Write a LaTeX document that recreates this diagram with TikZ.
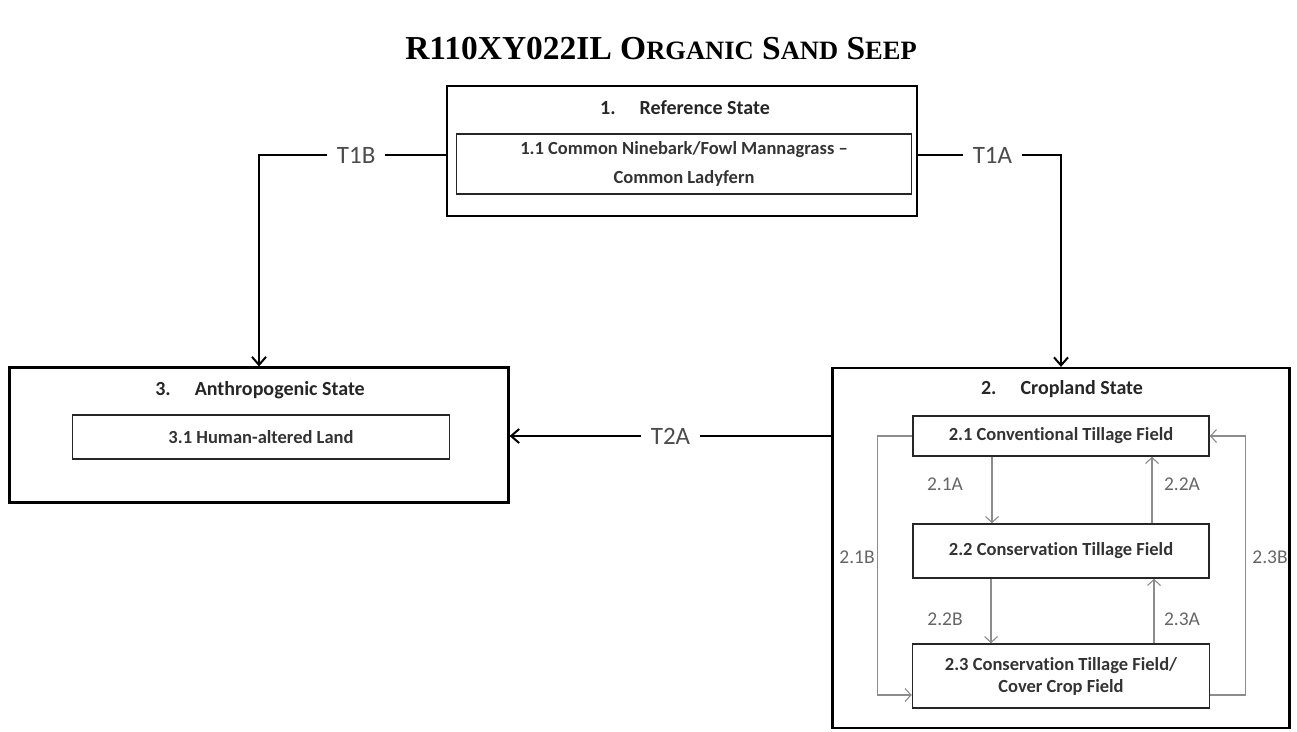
\documentclass[tikz,border=0pt]{standalone}
\usepackage{fontspec}
\setmainfont[Ligatures=NoCommon]{Carlito}
\newfontfamily\titlefont{Liberation Serif}
\usetikzlibrary{arrows.meta}
\begin{document}
\begin{tikzpicture}[x=1pt,y=-1pt,
  statebox/.style={draw=black,line width=2.2pt,inner sep=0pt},
  phasebox/.style={draw=black!85,line width=1.5pt,inner sep=0pt,align=center,
     font=\fontsize{18.5}{22}\selectfont\bfseries,text=black!80},
  statetitle/.style={font=\fontsize{20}{24}\selectfont\bfseries,text=black!85},
  bigarrow/.style={line width=2.2pt,draw=black,-{Straight Barb[length=8pt,width=14pt,line width=2pt]}},
  garrow/.style={line width=1.2pt,draw=black!45,-{Straight Barb[length=6pt,width=13pt,line width=1.1pt]}},
  tlabel/.style={fill=white,inner xsep=10pt,font=\fontsize{25}{28}\selectfont,text=black!70},
  glabel/.style={font=\fontsize{19.5}{22}\selectfont,text=black!60}]
\useasboundingbox (0,0) rectangle (1297,731);
% title
\node[font=\titlefont\bfseries\fontsize{33.5}{38}\selectfont,text=black] (title) at (661,49)
  {R110XY022IL O{\fontsize{26.5}{30}\selectfont RGANIC} S{\fontsize{26.5}{30}\selectfont AND} S{\fontsize{26.5}{30}\selectfont EEP}};
% state 1
\node[statebox,minimum width=470pt,minimum height=130pt] (b1) at (682,151) {};
\node[statetitle] (b1t) at (685,108) {1.\hspace{1.2em}Reference State};
\node[phasebox,minimum width=455pt,minimum height=60pt] (s11) at (684,164)
  {1.1 Common Ninebark/Fowl Mannagrass --\\[7pt]Common Ladyfern};
% state 3
\node[statebox,minimum width=499pt,minimum height=135pt] (b3) at (259,435) {};
\node[statetitle] (b3t) at (260,390) {3.\hspace{1.2em}Anthropogenic State};
\node[phasebox,minimum width=377pt,minimum height=44pt] (s31) at (261,437) {3.1 Human-altered Land};
% state 2
\node[statebox,minimum width=457pt,minimum height=360pt] (b2) at (1061,548) {};
\node[statetitle] (b2t) at (1062,389) {2.\hspace{1.2em}Cropland State};
\node[phasebox,minimum width=296pt,minimum height=40pt] (s21) at (1061,436) {2.1 Conventional Tillage Field};
\node[phasebox,minimum width=296pt,minimum height=54pt] (s22) at (1061,551) {2.2 Conservation Tillage Field};
\node[phasebox,minimum width=297pt,minimum height=64pt] (s23) at (1061,676) {2.3 Conservation Tillage Field/\\Cover Crop Field};
% transitions between states
\draw[bigarrow] ([yshift=-4pt]b1.west) -| node[tlabel,pos=0.24] {T1B} (b3.north);
\draw[bigarrow] ([yshift=-4pt]b1.east) -| node[tlabel,pos=0.26] {T1A} (b2.north);
\draw[bigarrow] (b2.west |- s21.west) -- node[tlabel] {T2A} (b3.east |- s21.west);
% transitions within state 2
\draw[garrow] ([xshift=-69pt]s21.south) -- ([xshift=-69pt]s22.north);
\draw[garrow] ([xshift=91pt]s22.north) -- ([xshift=91pt]s21.south);
\draw[garrow] ([xshift=-70pt]s22.south) -- ([xshift=-70pt]s23.north);
\draw[garrow] ([xshift=93pt]s23.north) -- ([xshift=93pt]s22.south);
\draw[garrow] (s21.west) -- ++(-35,0) |- ([yshift=-19pt]s23.west);
\draw[garrow] ([yshift=-19pt]s23.east) -- ++(35,0) |- (s21.east);
\node[glabel] (l21a) at (945,484) {2.1A};
\node[glabel] (l22a) at (1182,484) {2.2A};
\node[glabel] (l22b) at (945,619) {2.2B};
\node[glabel] (l23a) at (1182,619) {2.3A};
\node[glabel] (l21b) at (857,557) {2.1B};
\node[glabel] (l23b) at (1270,557) {2.3B};
\end{tikzpicture}
\end{document}
